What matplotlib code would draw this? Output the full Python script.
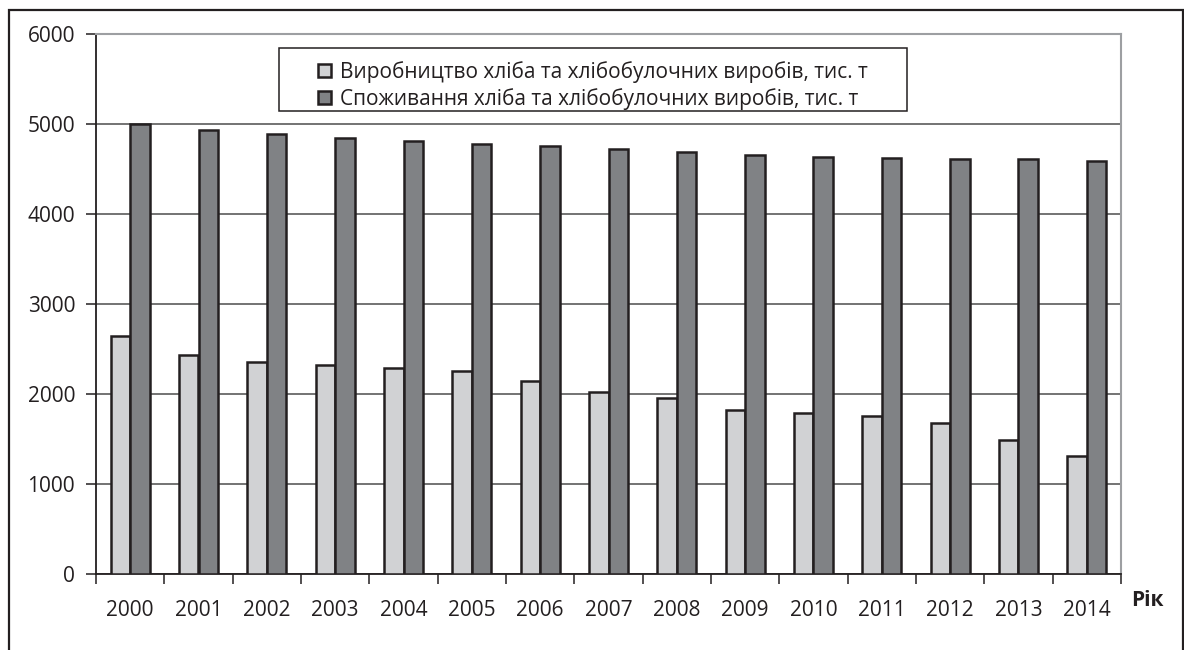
import matplotlib as mpl
import matplotlib.pyplot as plt
import numpy as np
from matplotlib.patches import Rectangle

mpl.rcParams["font.family"] = ["Open Sans", "DejaVu Sans"]

years = ["2000", "2001", "2002", "2003", "2004", "2005", "2006", "2007",
         "2008", "2009", "2010", "2011", "2012", "2013", "2014"]
production = [2640, 2435, 2355, 2320, 2290, 2255, 2145, 2025,
              1960, 1820, 1785, 1755, 1675, 1490, 1315]
consumption = [5000, 4935, 4890, 4845, 4812, 4782, 4752, 4718,
               4686, 4656, 4638, 4622, 4607, 4610, 4590]
labels = ["Виробництво хліба та хлібобулочних виробів, тис. т",
          "Споживання хліба та хлібобулочних виробів, тис. т"]

W, H = 1184, 650
BAR_W = 0.285
LIGHT = "#d1d2d4"
DARK = "#808285"


def main():
    fig = plt.figure(figsize=(W / 100, H / 100), dpi=100)
    ax = fig.add_axes([96 / W, 1 - 574 / H, (1121 - 96) / W, (574 - 34) / H])

    x = np.arange(len(years))
    b1 = ax.bar(x - BAR_W / 2, production, BAR_W, color=LIGHT,
                edgecolor="#231f20", linewidth=1.8, zorder=3, label=labels[0])
    b2 = ax.bar(x + BAR_W / 2, consumption, BAR_W, color=DARK,
                edgecolor="#231f20", linewidth=1.8, zorder=3, label=labels[1])

    ax.set_xlim(-0.5, len(years) - 0.5)
    ax.set_ylim(0, 6000)
    ax.set_yticks(np.arange(0, 6001, 1000))
    ax.yaxis.grid(True, color="#4d4d4d", linewidth=1.1, zorder=1)
    ax.set_axisbelow(True)

    # category boundaries carry the ticks, centres carry the labels
    ax.set_xticks(np.arange(-0.5, len(years), 1.0))
    ax.set_xticklabels([])
    ax.set_xticks(x, minor=True)
    ax.set_xticklabels(years, minor=True)
    ax.tick_params(axis="x", which="major", direction="out", length=7,
                   width=1.1, color="#231f20")
    ax.tick_params(axis="x", which="minor", length=0, pad=19,
                   labelsize=15, labelcolor="#231f20")
    ax.tick_params(axis="y", direction="out", length=7, width=1.1,
                   color="#231f20", pad=8, labelsize=15, labelcolor="#231f20")

    for side in ("left", "bottom"):
        ax.spines[side].set_color("#231f20")
        ax.spines[side].set_linewidth(1.3)
    for side in ("top", "right"):
        ax.spines[side].set_color("#9d9fa2")
        ax.spines[side].set_linewidth(1.5)

    fig.text(1131 / W, 1 - 600 / H, "Рік", fontsize=15, fontweight="bold",
             color="#231f20", ha="left", va="center")

    # legend box
    fig.add_artist(Rectangle((279 / W, 1 - 111 / H), (907 - 279) / W, (111 - 48) / H,
                             transform=fig.transFigure, facecolor="white",
                             edgecolor="#231f20", linewidth=1.1, zorder=4))
    leg = fig.legend(handles=[b1, b2], loc="upper left",
                     bbox_to_anchor=(314 / W, 1 - 57 / H), borderaxespad=0,
                     frameon=False, fontsize=15, handlelength=0.6,
                     handleheight=0.6, handletextpad=0.45, labelspacing=0.25,
                     borderpad=0.2)
    leg.set_zorder(5)
    for t in leg.get_texts():
        t.set_color("#231f20")

    # chart area border
    fig.add_artist(Rectangle((9 / W, -0.05), (1183 - 9) / W, 1.05 - 10 / H,
                             transform=fig.transFigure, fill=False,
                             edgecolor="#231f20", linewidth=1.6))

    fig.savefig("out.png", dpi=100)
    plt.close(fig)


if __name__ == "__main__":
    main()
